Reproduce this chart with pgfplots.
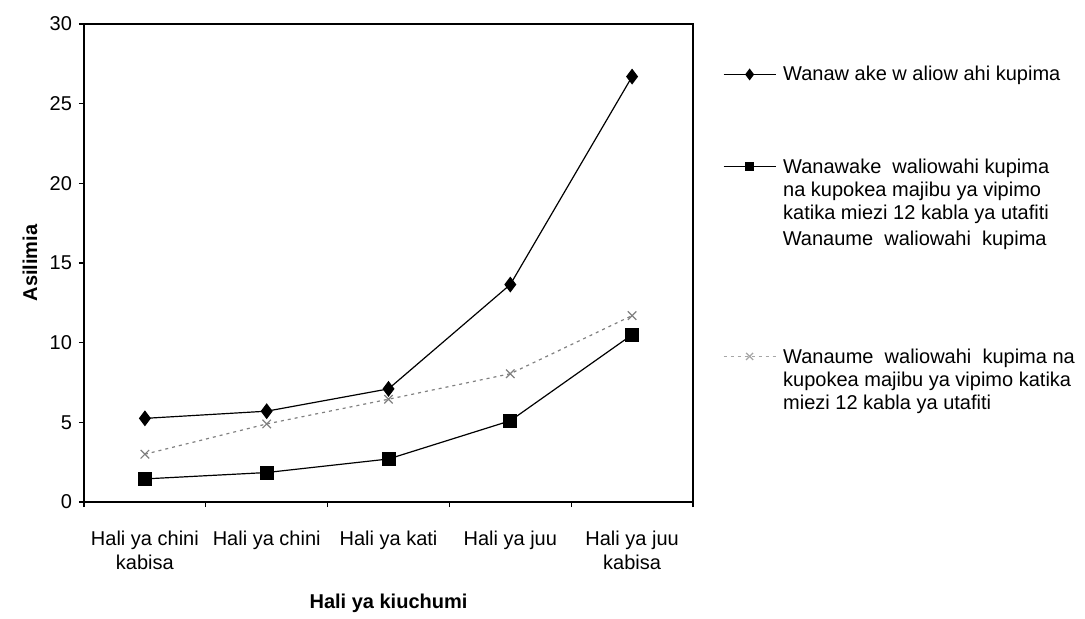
\documentclass[border=0pt]{standalone}
\usepackage{fontspec}
\setmainfont{Liberation Sans}
\usepackage{pgfplots}
\pgfplotsset{compat=1.18}
\pgfplotstableread{
x s1 s2 s4
0 5.25 1.45 3.0
1 5.7 1.85 4.9
2 7.1 2.7 6.45
3 13.65 5.1 8.05
4 26.7 10.5 11.7
}\datatable
\pgfplotsset{
  legax/.style={
    at={(0,0)}, anchor=south west,
    scale only axis, width=304.5pt, height=239pt,
    xmin=0, xmax=1, ymin=0, ymax=1, hide axis,
    legend style={at={(1,1)}, anchor=north west, xshift=15pt, yshift=#1,
      draw=none, fill=none, inner sep=0pt, outer sep=0pt, row sep=0pt, column sep=3.5pt,
      nodes={inner sep=0pt, font=\fontsize{10}{11.5}\selectfont}},
    legend cell align=left,
    legend image code/.code={\draw[mark repeat=2, mark phase=2, ##1] plot coordinates {(0pt,0pt) (13pt,0pt) (26pt,0pt)};},
  },
}
\begin{document}
\begin{tikzpicture}
\begin{axis}[
  at={(0,0)}, anchor=south west,
  scale only axis, width=304.5pt, height=239pt,
  xmin=-0.5, xmax=4.5, ymin=0, ymax=30,
  ytick={0,5,...,30},
  xtick={0,...,4},
  xticklabels={{Hali ya chini\\kabisa},{Hali ya chini},{Hali ya kati},{Hali ya juu},{Hali ya juu\\kabisa}},
  minor xtick={-0.5,0.5,...,4.5},
  major x tick style={draw=none},
  tick align=outside, xtick pos=left, ytick pos=left,
  major tick length=2.5pt, minor tick length=2.5pt,
  tick style={black, line width=0.6pt},
  axis line style={line width=0.7pt},
  xticklabel style={align=center, font=\fontsize{10}{12}\selectfont, yshift=-8.5pt},
  yticklabel style={font=\fontsize{10}{12}\selectfont},
  /pgf/number format/assume math mode=true,
  xlabel={\textbf{Hali ya kiuchumi}},
  ylabel={\textbf{Asilimia}},
  every axis x label/.style={at={(axis description cs:0.5,-0.211)}, anchor=center, font=\fontsize{10}{12}\selectfont},
  every axis y label/.style={at={(axis description cs:-0.0887,0.5)}, rotate=90, anchor=center, font=\fontsize{10}{12}\selectfont},
]
\addplot[black, line width=0.6pt, mark=diamond*, mark size=3.5pt, mark options={solid, fill=black}] table[x=x,y=s1]{\datatable};
\addplot[black, line width=0.6pt, mark=square*, mark size=3.2pt, mark options={solid, fill=black}] table[x=x,y=s2]{\datatable};
\addplot[gray, line width=0.6pt, dash pattern=on 1.5pt off 2pt, mark=x, mark size=3pt, mark options={solid}] table[x=x,y=s4]{\datatable};
\end{axis}
\begin{axis}[legax=-20.45pt]
\addlegendimage{black, line width=0.6pt, mark=diamond*, mark size=2.5pt, mark options={solid, fill=black}}
\addlegendentry{\strut Wanaw ake w aliow ahi kupima}
\end{axis}
\begin{axis}[legax=-66.45pt]
\addlegendimage{black, line width=0.6pt, mark=square*, mark size=2pt, mark options={solid, fill=black}}
\addlegendentry{\parbox[t]{150pt}{\strut Wanawake\ \ waliowahi kupima\\na kupokea majibu ya vipimo\\katika miezi 12 kabla ya utafiti\strut}}
\end{axis}
\begin{axis}[legax=-102.45pt]
\addlegendimage{legend image code/.code={\path (0pt,0pt) (26pt,0pt);}}
\addlegendentry{\strut Wanaume\ \ waliowahi\ \ kupima}
\end{axis}
\begin{axis}[legax=-161.45pt]
\addlegendimage{gray!70, line width=0.6pt, dash pattern=on 1.5pt off 2pt, mark=x, mark size=2.5pt, mark options={solid}}
\addlegendentry{\parbox[t]{150pt}{\strut Wanaume\ \ waliowahi\ \ kupima na\\kupokea majibu ya vipimo katika\\miezi 12 kabla ya utafiti\strut}}
\end{axis}
\path (-42pt,-57pt) rectangle (500.5pt,251pt);
\end{tikzpicture}
\end{document}
